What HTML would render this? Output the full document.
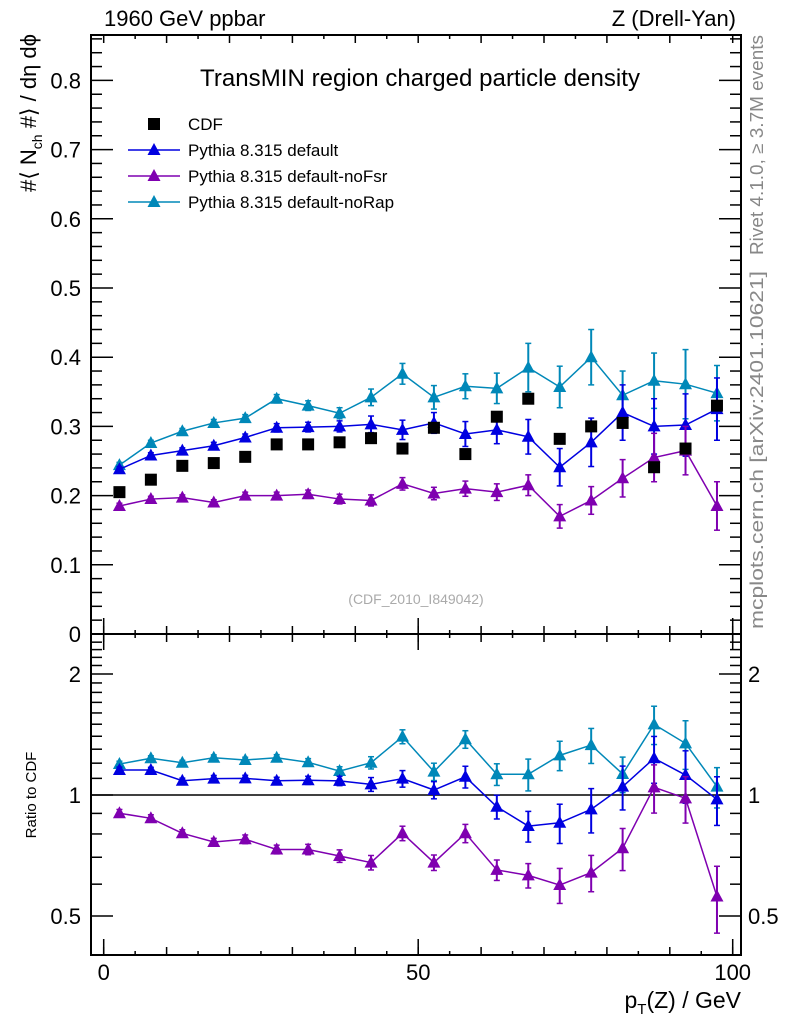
<!DOCTYPE html>
<html><head><meta charset="utf-8"><style>
body{margin:0;background:#fff;width:786px;height:1024px;overflow:hidden}
svg text{font-family:"Liberation Sans",sans-serif}
</style></head><body>
<svg id="c" width="786" height="1024"></svg>
<script>
const xCenters=[2.5,7.5,12.5,17.5,22.5,27.5,32.5,37.5,42.5,47.5,52.5,57.5,62.5,67.5,72.5,77.5,82.5,87.5,92.5,97.5];
const cdfVals=[0.205,0.223,0.243,0.247,0.256,0.274,0.274,0.277,0.283,0.268,0.298,0.260,0.314,0.340,0.282,0.300,0.305,0.241,0.268,0.330];
const defVals=[0.238,0.258,0.265,0.272,0.284,0.298,0.299,0.300,0.303,0.295,0.305,0.289,0.295,0.285,0.241,0.277,0.320,0.300,0.302,0.325];
const defErr=[0.004,0.004,0.004,0.005,0.005,0.006,0.007,0.008,0.012,0.014,0.015,0.018,0.020,0.025,0.027,0.035,0.040,0.040,0.045,0.045];
const fsrVals=[0.185,0.195,0.197,0.190,0.200,0.200,0.202,0.195,0.193,0.217,0.203,0.210,0.205,0.215,0.170,0.193,0.225,0.255,0.265,0.185];
const fsrErr=[0.004,0.004,0.004,0.004,0.005,0.005,0.006,0.007,0.008,0.009,0.009,0.011,0.012,0.015,0.017,0.020,0.027,0.035,0.035,0.035];
const rapVals=[0.244,0.276,0.293,0.305,0.312,0.340,0.330,0.319,0.342,0.376,0.342,0.358,0.355,0.385,0.357,0.400,0.345,0.366,0.361,0.348];
const rapErr=[0.004,0.004,0.004,0.005,0.005,0.006,0.007,0.008,0.012,0.015,0.017,0.018,0.022,0.035,0.030,0.040,0.035,0.040,0.050,0.040];
const defRatio=[1.154,1.154,1.085,1.098,1.100,1.085,1.088,1.084,1.063,1.098,1.029,1.110,0.935,0.837,0.853,0.921,1.049,1.234,1.121,0.975];
const fsrRatio=[0.901,0.875,0.803,0.764,0.776,0.732,0.732,0.705,0.679,0.803,0.679,0.803,0.651,0.631,0.597,0.641,0.737,1.045,0.981,0.559];
const rapRatio=[1.194,1.234,1.203,1.238,1.222,1.238,1.206,1.147,1.203,1.397,1.143,1.376,1.126,1.126,1.255,1.331,1.128,1.499,1.344,1.049];
const mainTicks=[0,0.1,0.2,0.3,0.4,0.5,0.6,0.7,0.8];
const xTicks=[0,50,100];
const ratioTicks=[0.5,1,2];

const NS="http://www.w3.org/2000/svg",svg=document.getElementById('c');
function el(t,a,p){const e=document.createElementNS(NS,t);for(const k in a)e.setAttribute(k,a[k]);(p||svg).appendChild(e);return e;}
const L=91,R=741,T=35,MID=634,B=955;
const X=v=>103.7+v*6.29;
const Y=v=>634-v*692;
const RY=r=>795-121*Math.log2(r);

let f=el('rect',{x:L,y:T,width:R-L,height:B-T,fill:'none',stroke:'#000','stroke-width':2});

el('line',{x1:L,x2:R,y1:MID,y2:MID,stroke:'#000','stroke-width':2});
let ul=el('line',{x1:L,x2:R,y1:RY(1),y2:RY(1),stroke:'#000','stroke-width':1.5});


for(let v=0;v<=100;v+=5){const h=v%10==0?8:4;const x=X(v);
 [MID,B].forEach(yy=>{el('line',{x1:x,x2:x,y1:yy,y2:yy-h,stroke:'#000','stroke-width':1.5});});
 el('line',{x1:x,x2:x,y1:MID,y2:MID+h,stroke:'#000','stroke-width':1.5});
 el('line',{x1:x,x2:x,y1:T,y2:T+h,stroke:'#000','stroke-width':1.5});
}
xTicks.forEach(v=>{const x=X(v);
 el('line',{x1:x,x2:x,y1:B,y2:B-16,stroke:'#000','stroke-width':1.5});
 el('line',{x1:x,x2:x,y1:MID,y2:MID-16,stroke:'#000','stroke-width':1.5});
 el('line',{x1:x,x2:x,y1:MID,y2:MID+16,stroke:'#000','stroke-width':1.5});
 let t=el('text',{x:x,y:980,'font-size':22,'text-anchor':'middle'});t.textContent=v;
 
});
for(let i=0;i<=43;i++){const v=i*0.02;const y=Y(v);if(y<T)break;const maj=i%5==0;const h=maj?22:11;
 el('line',{x1:L,x2:L+h,y1:y,y2:y,stroke:'#000','stroke-width':1.5});
 el('line',{x1:R,x2:R-h,y1:y,y2:y,stroke:'#000','stroke-width':1.5});}
mainTicks.forEach(v=>{let t=el('text',{x:81,y:Y(v)+8,'font-size':22,'text-anchor':'end'});t.textContent=v==0?'0':v.toFixed(1);
 });
const rmin=[0.5,0.6,0.7,0.8,0.9,1,1.1,1.2,1.3,1.4,1.5,1.6,1.7,1.8,1.9,2,2.1,2.2,2.3,2.4,0.4];
rmin.forEach(r=>{const y=RY(r);if(y<MID||y>B)return;const maj=ratioTicks.includes(r);const h=maj?22:11;
 el('line',{x1:L,x2:L+h,y1:y,y2:y,stroke:'#000','stroke-width':1.5});
 el('line',{x1:R,x2:R-h,y1:y,y2:y,stroke:'#000','stroke-width':1.5});});
ratioTicks.forEach(r=>{const y=RY(r)+8;
 let t=el('text',{x:81,y:y,'font-size':22,'text-anchor':'end'});t.textContent=r;
 
 let t2=el('text',{x:748,y:y,'font-size':22});t2.textContent=r;
 });

function tri(x,y,c){return el('path',{d:`M${x},${y-7}L${x+6.5},${y+5}L${x-6.5},${y+5}Z`,fill:c});}
function series(vals,errs,yf,c,name,rel){
 const g=el('g',{});
 el('polyline',{points:xCenters.map((x,i)=>X(x)+','+yf(vals[i])).join(' '),fill:'none',stroke:c,'stroke-width':1.5},g);
 xCenters.forEach((x,i)=>{const px=X(x);let e=errs[i];let lo,hi;
  if(rel){const re=errs[i]/rel[i];lo=yf(vals[i]*(1-re));hi=yf(vals[i]*(1+re));}else{lo=yf(vals[i]-e);hi=yf(vals[i]+e);}
  el('line',{x1:px,x2:px,y1:lo,y2:hi,stroke:c,'stroke-width':2},g);
  el('line',{x1:px-3,x2:px+3,y1:lo,y2:lo,stroke:c,'stroke-width':1.5},g);
  el('line',{x1:px-3,x2:px+3,y1:hi,y2:hi,stroke:c,'stroke-width':1.5},g);
  const m=tri(px,yf(vals[i]),c);g.appendChild(m);
 });
}
const cDef='#0000e0',cFsr='#7f00b0',cRap='#0088b8';
series(rapVals,rapErr,Y,cRap,'series-norap',null);
series(defVals,defErr,Y,cDef,'series-default',null);
series(fsrVals,fsrErr,Y,cFsr,'series-nofsr',null);
series(rapRatio,rapErr,RY,cRap,'ratio-norap',rapVals);
series(defRatio,defErr,RY,cDef,'ratio-default',defVals);
series(fsrRatio,fsrErr,RY,cFsr,'ratio-nofsr',fsrVals);
const cg=el('g',{});
xCenters.forEach((x,i)=>{el('rect',{x:X(x)-6,y:Y(cdfVals[i])-6,width:12,height:12,fill:'#000'},cg);});

function txt(s,a,name){const t=el('text',a);t.textContent=s;return t;}
txt('1960 GeV ppbar',{x:104,y:26,'font-size':22},'energy-label');
txt('Z (Drell-Yan)',{x:736,y:26,'font-size':22,'text-anchor':'end'},'process-label');
txt('TransMIN region charged particle density',{x:420,y:86,'font-size':24,'text-anchor':'middle',textLength:440},'plot-title');
txt('(CDF_2010_I849042)',{x:416,y:604,'font-size':14,'text-anchor':'middle',fill:'#aaa'},'analysis-id');
const leg=[['CDF',null],['Pythia 8.315 default',cDef],['Pythia 8.315 default-noFsr',cFsr],['Pythia 8.315 default-noRap',cRap]];
leg.forEach((l,i)=>{const y=124+i*26;const g=el('g',{});
 if(!l[1])el('rect',{x:148,y:y-6,width:12,height:12,fill:'#000'},g);
 else{el('line',{x1:128,x2:180,y1:y,y2:y,stroke:l[1],'stroke-width':1.5},g);g.appendChild(tri(154,y,l[1]));}
 const t=el('text',{x:188,y:y+6,'font-size':17},g);t.textContent=l[0];});
const yt=txt('',{transform:'translate(36,34) rotate(-90)','font-size':22,'text-anchor':'end'},'y-axis-title');
yt.innerHTML='#⟨ N<tspan font-size="14" dy="6">ch</tspan><tspan dy="-6"> #⟩ / dη dϕ</tspan>';
txt('Ratio to CDF',{transform:'translate(36,795) rotate(-90)','font-size':15,'text-anchor':'middle'},'ratio-axis-title');
const xt=txt('',{x:741,y:1008,'font-size':23,'text-anchor':'end'},'x-axis-title');
xt.innerHTML='p<tspan font-size="15" dy="6">T</tspan><tspan dy="-6">(Z) / GeV</tspan>';
txt('Rivet 4.1.0, ≥ 3.7M events',{transform:'translate(763,145) rotate(-90)','font-size':18,'text-anchor':'middle',fill:'#888',textLength:220,lengthAdjust:'spacingAndGlyphs'},'rivet-label');
txt('mcplots.cern.ch [arXiv:2401.10621]',{transform:'translate(763,450) rotate(-90)','font-size':18,'text-anchor':'middle',fill:'#888',textLength:358,lengthAdjust:'spacingAndGlyphs'},'mcplots-label');
</script>
</body></html>
